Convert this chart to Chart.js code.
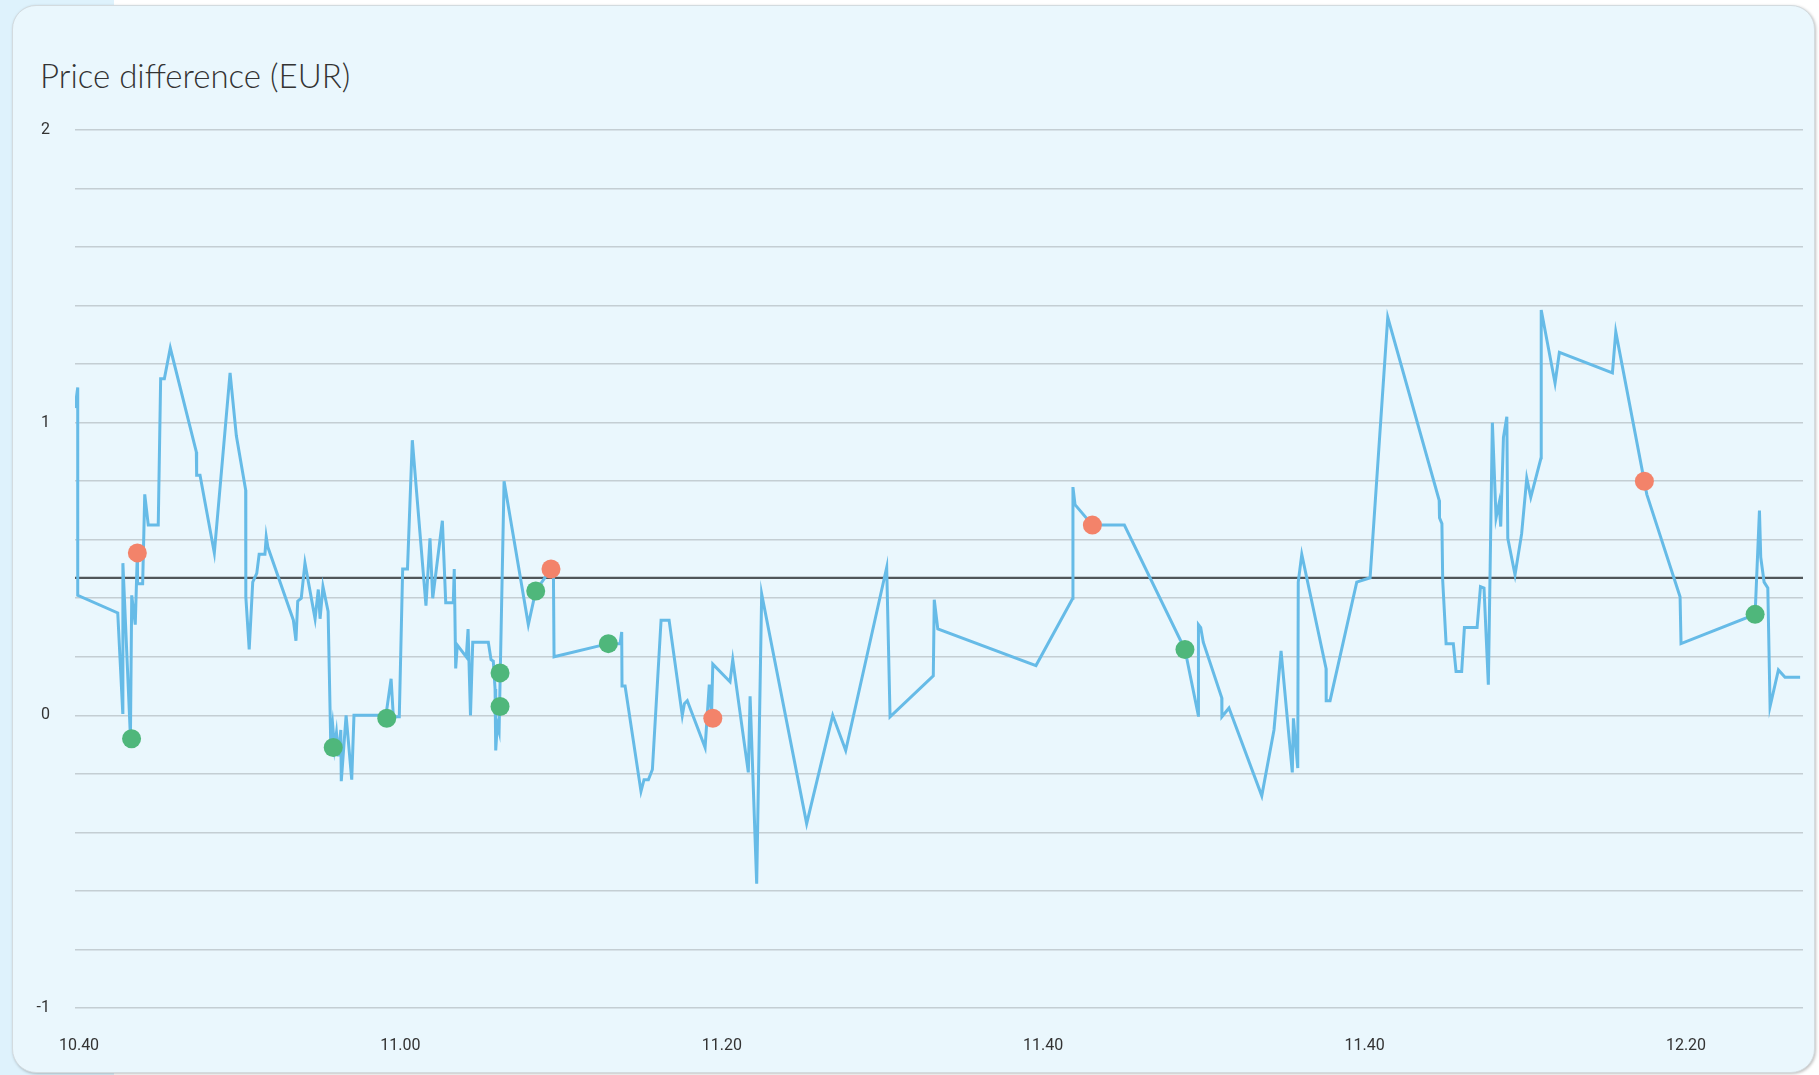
<!DOCTYPE html>
<html>
<head>
<meta charset="utf-8">
<script src="https://cdn.jsdelivr.net/npm/chart.js@4.4.1/dist/chart.umd.min.js"></script>
<style>
  html, body { margin: 0; padding: 0; background: #ffffff; }
  body { width: 1819px; height: 1075px; position: relative; overflow: hidden; }
  .side { position: absolute; left: 0; top: 0; width: 114px; height: 1075px; background: #def2fc; }
  .card {
    position: absolute; left: 12px; top: 5px; width: 1801px; height: 1066px;
    background: #eaf7fd; border: 1px solid #d3dbdf; border-radius: 24px;
    box-shadow: 1px 1px 3px rgba(0, 0, 0, 0.25);
  }
  .title {
    position: absolute; left: 40px; top: 59px; margin: 0;
    font-family: Lato, "Open Sans", sans-serif; font-weight: 300; font-size: 33px;
    line-height: 1; color: #333333;
  }
  .chart-box { position: absolute; left: 0; top: 0; width: 1819px; height: 1075px; }
</style>
</head>
<body>
<div class="side"></div>
<div class="card"></div>
<h1 class="title">Price difference (EUR)</h1>
<div class="chart-box"><canvas id="diffChart"></canvas></div>
<script>
// minutes after 10:40
const times = [
  -0.25, -0.08, -0.08, 2.41, 2.72, 2.73, 3.20, 3.28, 3.50, 3.63, 3.64, 3.96, 4.09, 4.31, 4.93,
  5.08, 5.31, 5.68, 7.30, 7.32, 7.53, 8.42, 9.40, 9.79, 10.37, 10.38, 10.59, 10.81, 11.06, 11.21,
  11.57, 11.65, 11.75, 13.34, 13.50, 13.61, 13.83, 14.06, 14.69, 14.89, 15.00, 15.18, 15.50, 15.66,
  15.78, 15.90, 16.02, 16.14, 16.29, 16.32, 16.62, 16.97, 17.11, 19.10, 19.42, 19.56, 19.93, 20.14,
  20.44, 20.74, 21.59, 21.84, 22.01, 22.61, 22.82, 23.29, 23.35, 23.44, 23.54, 24.10, 24.21, 24.36,
  24.50, 25.47, 25.64, 25.78, 25.89, 25.93, 26.03, 26.14, 26.45, 27.96, 28.42, 29.37, 29.52, 29.56,
  32.94, 33.67, 33.77, 33.79, 33.98, 34.97, 35.16, 35.43, 35.68, 36.22, 36.72, 37.54, 37.67, 37.85,
  38.96, 39.22, 39.36, 39.44, 40.51, 40.68, 41.65, 41.76, 42.17, 42.48, 45.28, 46.90, 47.71, 50.26,
  50.47, 53.16, 53.22, 53.44, 59.55, 61.84, 61.85, 61.98, 63.06, 65.05, 68.82, 69.65, 69.66, 69.80,
  69.96, 71.11, 71.12, 71.56, 73.60, 74.36, 74.80, 75.50, 75.57, 75.84, 75.87, 76.09, 77.60, 77.61,
  77.85, 79.51, 80.34, 81.44, 84.64, 84.66, 84.81, 84.86, 85.07, 85.52, 85.69, 86.04, 86.21, 87.00,
  87.21, 87.43, 87.70, 87.95, 88.18, 88.37, 88.47, 88.64, 88.85, 88.91, 89.36, 89.77, 90.09, 90.34,
  90.98, 90.99, 91.85, 92.12, 95.42, 95.63, 97.56, 99.63, 99.69, 104.30, 104.57, 104.65, 104.86,
  105.09, 105.23, 105.75, 106.16, 107.10
];
const diffs = [
  1.05, 1.12, 0.41, 0.35, 0.01, 0.52, -0.075, 0.41, 0.31, 0.555, 0.45, 0.45, 0.755, 0.65, 0.65,
  1.15, 1.15, 1.255, 0.90, 0.82, 0.82, 0.555, 1.17, 0.955, 0.77, 0.405, 0.225, 0.455, 0.485, 0.55,
  0.55, 0.61, 0.575, 0.325, 0.255, 0.39, 0.40, 0.52, 0.33, 0.43, 0.33, 0.44, 0.355, -0.085,
  -0.03, -0.11, -0.06, -0.14, -0.05, -0.225, 0.0, -0.22, 0.0, 0.0, 0.125, -0.005, -0.005, 0.50,
  0.50, 0.94, 0.375, 0.605, 0.40, 0.665, 0.385, 0.385, 0.50, 0.16, 0.24, 0.20, 0.295, 0.0,
  0.25, 0.25, 0.19, 0.185, 0.09, -0.12, -0.03, -0.055, 0.80, 0.31, 0.425, 0.50, 0.495, 0.20,
  0.245, 0.245, 0.285, 0.10, 0.10, -0.26, -0.22, -0.22, -0.185, 0.325, 0.325, 0.0, 0.04, 0.05,
  -0.11, 0.105, 0.0, 0.175, 0.115, 0.19, -0.195, 0.065, -0.575, 0.415, -0.37, 0.0, -0.12, 0.505,
  -0.005, 0.135, 0.395, 0.295, 0.17, 0.40, 0.78, 0.72, 0.65, 0.65, 0.225, 0.0, 0.31, 0.30,
  0.25, 0.06, -0.005, 0.025, -0.275, -0.05, 0.22, -0.195, -0.01, -0.18, 0.455, 0.55, 0.16, 0.05,
  0.05, 0.455, 0.47, 1.36, 0.735, 0.675, 0.655, 0.46, 0.245, 0.245, 0.15, 0.15, 0.30, 0.30,
  0.44, 0.435, 0.105, 1.0, 0.675, 0.725, 0.645, 0.95, 1.02, 0.605, 0.48, 0.62, 0.81, 0.745,
  0.88, 1.385, 1.135, 1.24, 1.17, 1.31, 0.755, 0.405, 0.245, 0.345, 0.70, 0.54, 0.455,
  0.435, 0.03, 0.155, 0.13, 0.13
];

const buyTimes = [3.27, 15.82, 19.15, 26.20, 26.20, 28.42, 32.94, 68.82, 104.30];
const buyDiffs = [-0.08, -0.11, -0.01, 0.145, 0.03, 0.425, 0.245, 0.225, 0.345];
const sellTimes = [3.63, 29.37, 39.44, 63.06, 97.41];
const sellDiffs = [0.555, 0.50, -0.01, 0.65, 0.80];

const avgDiff = 0.47;
const xTickLabels = ['10.40', '11.00', '11.20', '11.40', '11.40', '12.20'];

const xMin = -0.25;
const xMax = 107.28;

const toPoints = (xs, ys) => xs.map((x, i) => ({ x: x, y: ys[i] }));

const ctx = document.getElementById('diffChart').getContext('2d');
const diffChart = new Chart(ctx, {
  type: 'line',
  data: {
    datasets: [
      {
        label: 'Buy',
        type: 'scatter',
        data: toPoints(buyTimes, buyDiffs),
        backgroundColor: '#4fb77b',
        borderWidth: 0,
        pointRadius: 9.5,
        order: 0
      },
      {
        label: 'Sell',
        type: 'scatter',
        data: toPoints(sellTimes, sellDiffs),
        backgroundColor: '#f3836a',
        borderWidth: 0,
        pointRadius: 9.5,
        order: 0
      },
      {
        label: 'Price difference',
        data: toPoints(times, diffs),
        borderColor: '#66bbe7',
        borderWidth: 3,
        pointRadius: 0,
        tension: 0,
        fill: false,
        order: 1
      },
      {
        label: 'Average',
        data: [{ x: xMin, y: avgDiff }, { x: xMax, y: avgDiff }],
        borderColor: '#505659',
        borderWidth: 2.2,
        pointRadius: 0,
        fill: false,
        order: 2
      }
    ]
  },
  options: {
    responsive: true,
    maintainAspectRatio: false,
    animation: false,
    layout: { padding: { left: 35, top: 130, right: 16, bottom: 17 } },
    plugins: { legend: { display: false }, tooltip: { enabled: false } },
    scales: {
      x: {
        type: 'linear',
        min: xMin,
        max: xMax,
        grid: { display: false, drawTicks: false },
        border: { display: false },
        ticks: {
          stepSize: 20,
          includeBounds: false,
          autoSkip: false,
          maxRotation: 0,
          padding: 28,
          color: '#333333',
          font: { family: 'Roboto, "Open Sans", sans-serif', size: 16 },
          callback: (v) => xTickLabels[Math.round(v / 20)]
        },
        afterFit: (s) => { s.height = 50; }
      },
      y: {
        min: -1,
        max: 2,
        grid: { color: '#c4ced3', lineWidth: 1.6, drawTicks: false },
        border: { display: false },
        ticks: {
          stepSize: 0.2,
          autoSkip: false,
          padding: 25,
          color: '#333333',
          font: { family: 'Roboto, "Open Sans", sans-serif', size: 16 },
          callback: (v) => Math.abs(v - Math.round(v)) < 1e-6 ? String(Math.round(v)) : ''
        },
        afterFit: (s) => { s.width = 40; }
      }
    }
  }
});
</script>
</body>
</html>
